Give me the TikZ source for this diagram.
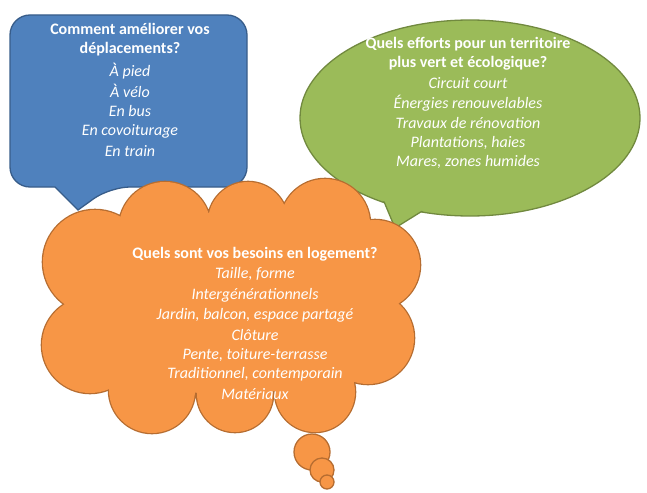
\documentclass[tikz,border=0pt]{standalone}
\usepackage{fontspec}
\setmainfont{Carlito}
\begin{document}
\begin{tikzpicture}[x=1pt,y=-1pt,
  txt/.style={text=white,font=\fontsize{16}{19}\selectfont\itshape,inner sep=0pt},
  ttl/.style={text=white,font=\fontsize{16}{19}\selectfont\bfseries,inner sep=0pt,align=center}]
\useasboundingbox (0,0) rectangle (647,492);
\definecolor{bfill}{HTML}{4F81BD}\definecolor{bline}{HTML}{385D8A}
\definecolor{gfill}{HTML}{9BBB59}\definecolor{gline}{HTML}{71893F}
\definecolor{ofill}{HTML}{F79646}\definecolor{oline}{HTML}{B66D31}
% blue callout
\filldraw[fill=bfill,draw=bline,line width=1.3pt,rounded corners=20pt] (10,100) -- (10,15) -- (247,15) -- (247,187) -- (110,187) [sharp corners] -- (78,210) -- (55,187) [rounded corners=20pt] -- (10,187) -- cycle;
% green callout
\filldraw[fill=gfill,draw=gline,line width=1.3pt] (470,118) ellipse[x radius=170,y radius=98];
\filldraw[fill=gfill,draw=gline,line width=1.3pt] (375,180) -- (395,228) -- (440,200);
\fill[gfill] (470,118) ellipse[x radius=168.7,y radius=96.7];
% orange cloud
\def\cloud{\foreach \x/\y/\r in {95/262/52,165/228/46,248/222/40,325/224/45,375/265/45,368/338/46,315/392/40,235/394/38,152/390/43,90/345/48}{(\x,\y) circle[radius=\r]} (230,305) ellipse[x radius=150,y radius=90]}
\draw[oline,line width=2.6pt] \cloud;
\fill[ofill] \cloud;
\filldraw[fill=ofill,draw=oline,line width=1.3pt] (312,452) circle[radius=18];
\filldraw[fill=ofill,draw=oline,line width=1.3pt] (322,470) circle[radius=12];
\filldraw[fill=ofill,draw=oline,line width=1.3pt] (327,482) circle[radius=7];
% texts blue
\node[ttl] (bt) at (130,40) {Comment améliorer vos\\déplacements?};
\node[txt] (b1) at (130,71) {À pied};
\node[txt] (b2) at (130,91) {À vélo};
\node[txt] (b3) at (130,111) {En bus};
\node[txt] (b4) at (130,131) {En covoiturage};
\node[txt] (b5) at (130,151) {En train};
% green
\node[ttl] (gt) at (468,54) {Quels efforts pour un territoire\\plus vert et écologique?};
\node[txt] (g1) at (468,83) {Circuit court};
\node[txt] (g2) at (468,103) {Énergies renouvelables};
\node[txt] (g3) at (468,123) {Travaux de rénovation};
\node[txt] (g4) at (468,143) {Plantations, haies};
\node[txt] (g5) at (468,162) {Mares, zones humides};
% orange
\node[ttl] (ot) at (255,254) {Quels sont vos besoins en logement?};
\node[txt] (o1) at (255,274) {Taille, forme};
\node[txt] (o2) at (255,295) {Intergénérationnels};
\node[txt] (o3) at (255,315) {Jardin, balcon, espace partagé};
\node[txt] (o4) at (255,335) {Clôture};
\node[txt] (o5) at (255,355) {Pente, toiture-terrasse};
\node[txt] (o6) at (255,374) {Traditionnel, contemporain};
\node[txt] (o7) at (255,394) {Matériaux};
\end{tikzpicture}
\end{document}
